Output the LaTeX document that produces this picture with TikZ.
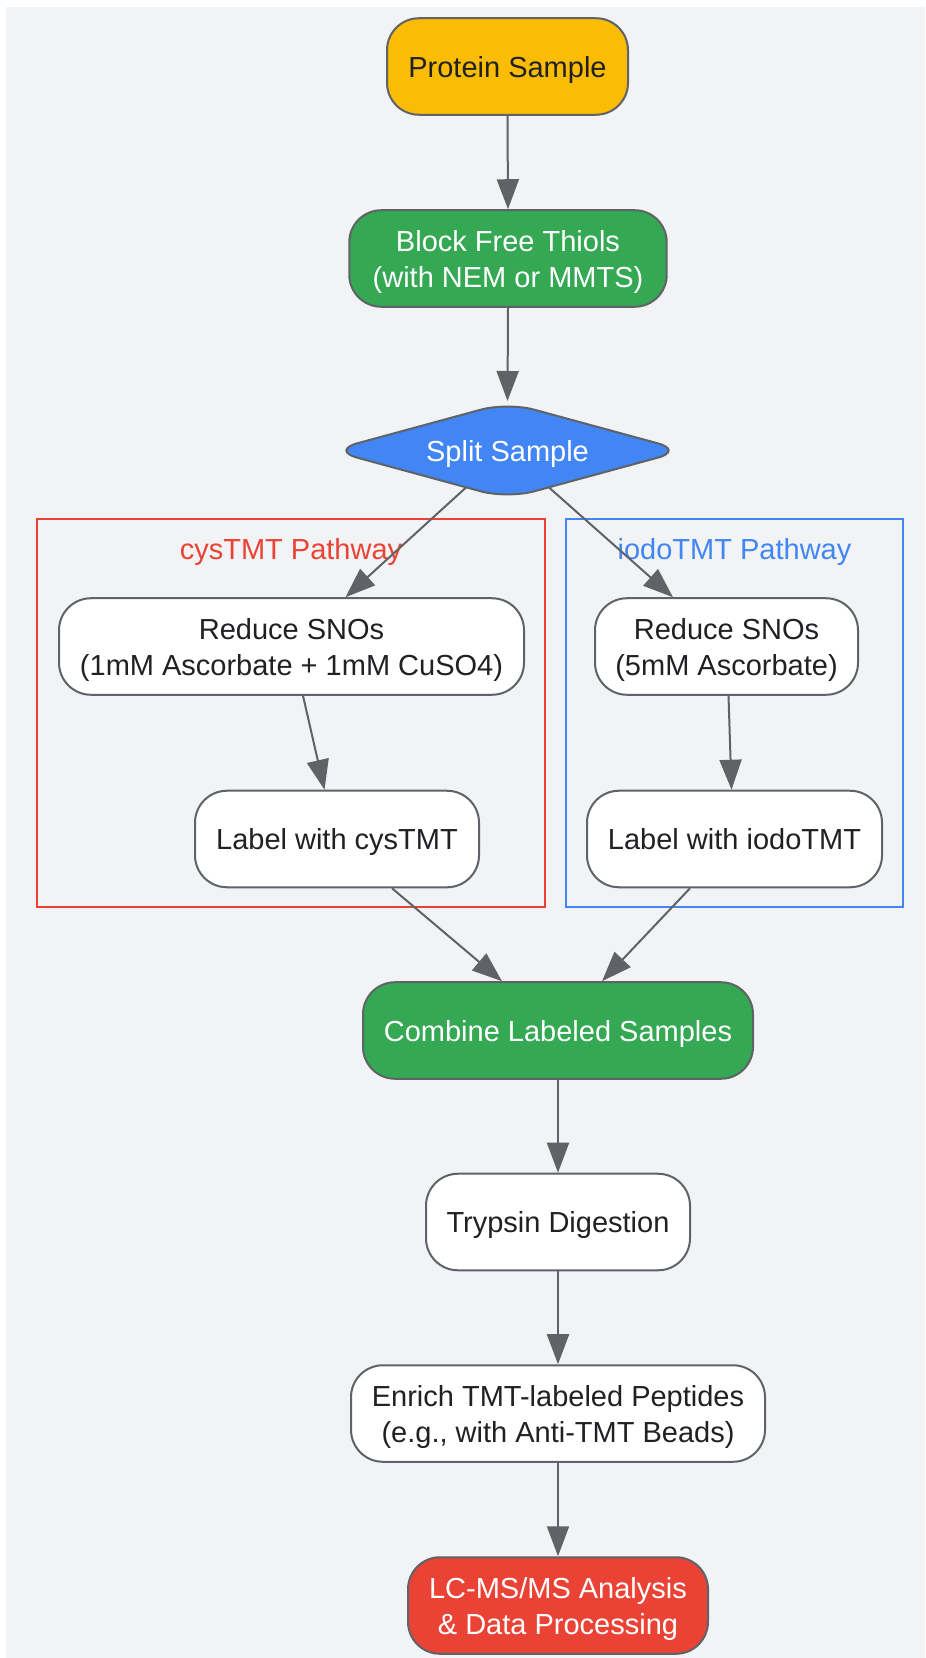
\documentclass[tikz,border=0pt]{standalone}
\usepackage{fontspec}
\setmainfont{Liberation Sans}
\usetikzlibrary{shapes.geometric,arrows.meta,calc}
\definecolor{bgc}{HTML}{F1F3F4}
\definecolor{edgec}{HTML}{5F6368}
\definecolor{gyellow}{HTML}{FBBC04}
\definecolor{ggreen}{HTML}{34A853}
\definecolor{gblue}{HTML}{4285F4}
\definecolor{gred}{HTML}{EA4335}
\definecolor{txtc}{HTML}{202124}
\pgfdeclarelayer{bglayer}
\pgfdeclarelayer{edgelayer}
\pgfsetlayers{bglayer,edgelayer,main}
\newcommand\lowerstrut{\rule[-4.6pt]{0pt}{25.6pt}}
\newcommand\topstrut{\rule{0pt}{21pt}}
\begin{document}
\begin{tikzpicture}[x=0.75pt,y=-0.75pt,
  font=\fontsize{21.75}{26.5}\selectfont,
  box/.style={draw=edgec, line width=1.5pt, rounded corners=24pt, inner sep=0pt,
    minimum height=72.4pt, align=center, text=txtc, fill=white},
  greenbox/.style={box, fill=ggreen, text=white},
  yellowbox/.style={box, fill=gyellow},
  redbox/.style={box, fill=gred, text=white},
  splitshape/.style={diamond, draw=edgec, line width=1.5pt, fill=gblue, text=white,
    inner sep=0pt, aspect=3.65, minimum width=265.5pt, minimum height=72.75pt,
    rounded corners=20.5pt},
  cluster/.style={draw, line width=1.6pt, fill=none, inner sep=0pt},
  arr/.style={draw=edgec, line width=1.5pt, -{Triangle[length=22.5pt,width=16.5pt]}, fill=edgec}
]
\useasboundingbox (0,0) rectangle (925,1658);

\begin{pgfonlayer}{bglayer}
  \fill[bgc] (6,7.5) rectangle (925,1658);
  \node[cluster, draw=gred, minimum width=381pt, minimum height=291pt] (cyscl) at (291,713) {};
  \node[cluster, draw=gblue, minimum width=252.75pt, minimum height=291pt] (iodocl) at (734.5,713) {};
  \node[text=gred] (cyslbl) at (291,552) {cysTMT Pathway};
  \node[text=gblue] (iodolbl) at (734.5,552) {iodoTMT Pathway};
\end{pgfonlayer}

\node[yellowbox, minimum width=180.75pt] (prot) at (507.5,66.5) {\lowerstrut Protein Sample};
\node[greenbox, minimum width=238.1pt] (block) at (508,258.5) {\topstrut Block Free Thiols\\(with NEM or MMTS)};
\node[splitshape] (split) at (507.5,450.5) {\lowerstrut Split Sample};
\node[box, minimum width=348.75pt] (redc) at (291.5,646.5) {\topstrut Reduce SNOs\\(1mM Ascorbate + 1mM CuSO4)};
\node[box, minimum width=213pt] (labc) at (337,839) {\lowerstrut Label with cysTMT};
\node[box, minimum width=197.25pt] (redi) at (726.5,646.5) {\topstrut Reduce SNOs\\(5mM Ascorbate)};
\node[box, minimum width=221.25pt] (labi) at (734.5,839) {\lowerstrut Label with iodoTMT};
\node[greenbox, minimum width=292.5pt] (comb) at (558,1030.5) {\lowerstrut Combine Labeled Samples};
\node[box, minimum width=198pt] (tryp) at (558,1222) {\lowerstrut Trypsin Digestion};
\node[box, minimum width=310.5pt] (enr) at (558,1413.5) {\topstrut Enrich TMT-labeled Peptides\\(e.g., with Anti-TMT Beads)};
\node[redbox, minimum width=225pt] (lc) at (558,1605.5) {\topstrut LC-MS/MS Analysis\\\&\ Data Processing};

\begin{pgfonlayer}{edgelayer}
  \draw[arr] (prot.south) -- (block.north);
  \draw[arr] (block.south) -- (split.north);
  \draw[arr] ($(split.center)+(-41.5,37)$) -- ($(redc.north)+(54,0)$);
  \draw[arr] ($(split.center)+(41.5,37)$) -- ($(redi.north)+(-53.5,0)$);
  \draw[arr] ($(redc.south)+(11.5,0)$) -- ($(labc.north)+(-12.5,0)$);
  \draw[arr] ($(redi.south)+(2,0)$) -- ($(labi.north)+(-3,0)$);
  \draw[arr] ($(labc.south)+(55,0)$) -- ($(comb.north)+(-56,0)$);
  \draw[arr] ($(labi.south)+(-44.5,0)$) -- ($(comb.north)+(44,0)$);
  \draw[arr] (comb.south) -- (tryp.north);
  \draw[arr] (tryp.south) -- (enr.north);
  \draw[arr] (enr.south) -- (lc.north);
\end{pgfonlayer}
\end{tikzpicture}
\end{document}
